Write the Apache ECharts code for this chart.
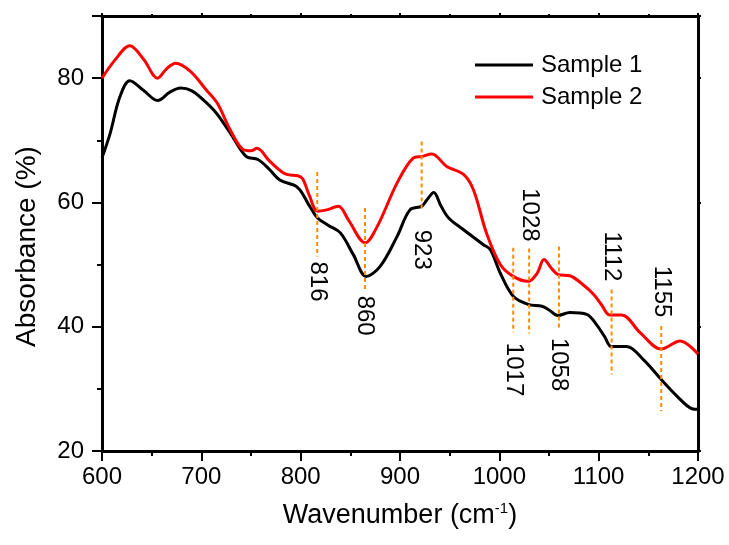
<!DOCTYPE html>
<html>
<head>
<meta charset="utf-8">
<script src="https://cdn.jsdelivr.net/npm/echarts@6/dist/echarts.min.js"></script>
<style>html,body{margin:0;padding:0;background:#fff}#c{width:729px;height:545px}</style>
</head>
<body>
<div id="c"></div>
<script>
// ---- data ----
const s1X = [600,608,618,628,642,656,668,679,690,702,715,729,745,757,768,779,797,809,817,828,840,853,866,880,897,910,922,927,934,941,949,964,984,991,1001,1014,1029,1043,1050,1059,1071,1088,1098,1106,1113,1128,1145,1163,1179,1194,1200];
const s1Y = [67.2,71.0,77.0,79.6,78.0,76.4,77.7,78.4,78.0,76.5,74.4,71.2,67.4,66.9,65.4,63.6,62.4,59.4,57.5,56.3,55.1,51.6,48.1,49.7,54.5,58.8,59.4,60.4,61.6,59.5,57.5,55.6,53.2,52.4,48.6,44.9,43.6,43.3,42.7,41.8,42.3,42.0,40.3,38.4,36.8,36.8,34.7,31.5,28.8,26.8,26.7];
const s2X = [600,613,628,642,656,665,674,689,705,716,729,742,750,756,769,786,797,802,809,817,826,838,848,865,877,897,913,922,932,947,964,974,987,1001,1014,1029,1038,1045,1052,1059,1071,1084,1095,1103,1111,1123,1142,1163,1182,1200];
const s2Y = [80.0,82.9,85.2,83.0,80.0,81.5,82.4,81.1,78.1,76.0,71.7,68.5,68.3,68.7,66.6,64.5,64.3,63.8,61.0,58.6,58.8,59.4,57.2,53.5,56.1,63.1,67.1,67.4,67.8,65.8,64.5,62.0,55.1,50.0,48.1,47.3,48.6,50.8,49.5,48.4,48.2,46.8,45.2,43.5,41.9,41.9,39.0,36.4,37.7,35.6];
const seriesNames = ['Sample 1','Sample 2'];
// peak annotations
const peakLabels = ['816','860','923','1017','1028','1058','1112','1155'];
const peakX      = [816.7,864.8,921.8,1014,1030,1060,1113,1163];
const peakTop    = [64.9,59.1,69.8,52.7,52.6,52.9,46.0,40.1];
const peakBottom = [51.3,46.0,58.8,39.1,38.9,39.4,32.3,26.4];
const peakLabelY = [50.5,45.0,55.6,37.4,53.7,38.2,47.3,41.5];
const peakSide   = ['below','below','below','below','above','below','above','above'];
const xTicks = {min:600, max:1200, interval:100};
const yTicks = {min:20, max:90, interval:20};

// ---- chart ----
const FONT = '"Liberation Sans", Arial, sans-serif';
const chart = echarts.init(document.getElementById('c'), null, {renderer:'canvas'});
const pair = (xs, ys) => xs.map((x,i)=>[x, ys[i]]);
const peakData = peakX.map((x,i)=>[x, peakTop[i], peakBottom[i], peakLabelY[i]]);

const axisLineStyle = {color:'#000', width:3};
chart.setOption({
  animation:false,
  grid:{left:102, right:31, top:16, bottom:94},
  legend:{
    orient:'vertical', left:475, top:52, padding:0, itemGap:6,
    itemWidth:58, itemHeight:3, icon:'rect',
    textStyle:{fontSize:24, fontFamily:FONT, color:'#000', lineHeight:26, padding:[0,0,0,3]},
    data:seriesNames
  },
  xAxis:[{
    type:'value', min:xTicks.min, max:xTicks.max, interval:xTicks.interval,
    name:'Wavenumber (cm{sup|-1})', nameLocation:'middle', nameGap:50,
    nameTextStyle:{fontSize:27, fontFamily:FONT, color:'#000',
      rich:{sup:{fontSize:15, fontFamily:FONT, color:'#000', padding:[0,0,14,0]}}},
    axisLine:{show:true, onZero:false, lineStyle:axisLineStyle},
    axisTick:{show:true, inside:false, length:10, lineStyle:{color:'#000', width:2}},
    minorTick:{show:true, splitNumber:2, length:5, lineStyle:{color:'#000', width:2}},
    axisLabel:{fontSize:24, fontFamily:FONT, color:'#000', margin:14, formatter:v=>String(v)},
    splitLine:{show:false}
  },{
    type:'value', position:'top', min:xTicks.min, max:xTicks.max, interval:xTicks.interval,
    axisLine:{show:true, onZero:false, lineStyle:axisLineStyle},
    axisTick:{show:true, length:3, lineStyle:{color:'#000', width:2}},
    minorTick:{show:true, splitNumber:2, length:2, lineStyle:{color:'#000', width:2}},
    axisLabel:{show:false}, splitLine:{show:false}
  }],
  yAxis:[{
    type:'value', min:yTicks.min, max:yTicks.max, interval:yTicks.interval,
    name:'Absorbance (%)', nameLocation:'middle', nameGap:61,
    nameTextStyle:{fontSize:28, fontFamily:FONT, color:'#000', padding:[0,26,0,0]},
    axisLine:{show:true, onZero:false, lineStyle:axisLineStyle},
    axisTick:{show:true, inside:false, length:10, lineStyle:{color:'#000', width:2}},
    minorTick:{show:true, splitNumber:2, length:5, lineStyle:{color:'#000', width:2}},
    axisLabel:{fontSize:24, fontFamily:FONT, color:'#000', margin:18, showMaxLabel:false},
    splitLine:{show:false}
  },{
    type:'value', position:'right', min:yTicks.min, max:yTicks.max, interval:yTicks.interval,
    axisLine:{show:true, onZero:false, lineStyle:axisLineStyle},
    axisTick:{show:true, length:3, lineStyle:{color:'#000', width:2}},
    minorTick:{show:true, splitNumber:2, length:2, lineStyle:{color:'#000', width:2}},
    axisLabel:{show:false}, splitLine:{show:false}
  }],
  series:[
    {name:seriesNames[0], type:'line', data:pair(s1X,s1Y), smooth:0.35, showSymbol:false,
     lineStyle:{color:'#000', width:3}, itemStyle:{color:'#000'}, z:3},
    {name:seriesNames[1], type:'line', data:pair(s2X,s2Y), smooth:0.35, showSymbol:false,
     lineStyle:{color:'#FF0000', width:3}, itemStyle:{color:'#FF0000'}, z:3},
    {type:'custom', data:peakData, z:4, silent:true,
     renderItem:function(params, api){
       const i = params.dataIndex;
       const p1 = api.coord([api.value(0), api.value(1)]);
       const p2 = api.coord([api.value(0), api.value(2)]);
       const pl = api.coord([api.value(0), api.value(3)]);
       return {type:'group', children:[
         {type:'line', shape:{x1:p1[0], y1:p1[1], x2:p2[0], y2:p2[1]},
          style:{stroke:'#FF8C00', lineWidth:2, lineDash:[4,3]}},
         {type:'text', x:pl[0], y:pl[1], rotation:-Math.PI/2,
          style:{text:peakLabels[i], fill:'#000', fontSize:24, fontFamily:FONT,
                 align: peakSide[i]==='below' ? 'left' : 'right', verticalAlign:'middle'}}
       ]};
     }}
  ]
});
</script>
</body>
</html>
